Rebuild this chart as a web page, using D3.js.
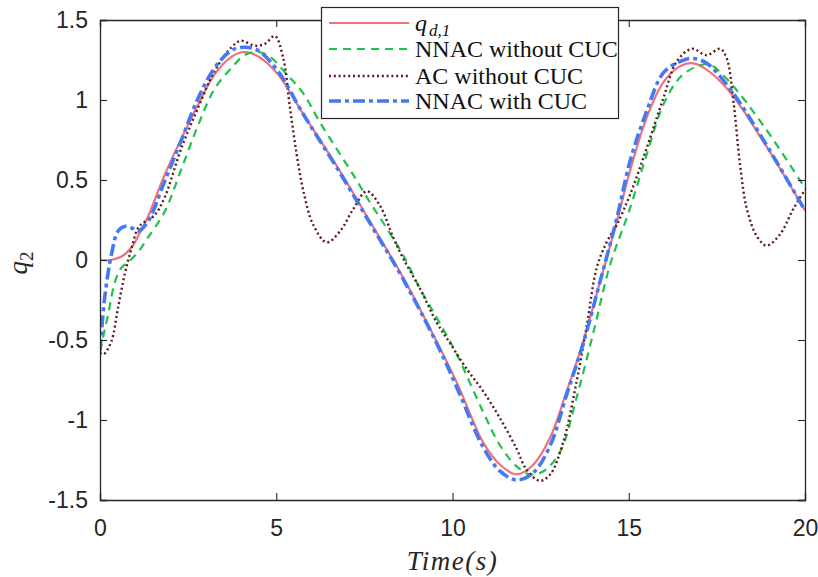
<!DOCTYPE html>
<html>
<head>
<meta charset="utf-8">
<script src="https://cdn.jsdelivr.net/npm/d3@7"></script>
<style>
  body { margin: 0; background: #fff; }
  svg { display: block; }
</style>
</head>
<body>
<div id="chart"></div>
<script>
// reference trajectory q_d,1
var refTime = [0, 0.3, 0.6, 0.9, 1.13, 1.36, 1.83, 2.31, 2.78, 3.25, 3.73, 4.1, 4.5, 5.05, 5.77, 6.71, 7.66, 8.6, 9.55, 10.17, 10.87, 11.35, 11.82, 12.29, 12.77, 13.24, 13.71, 14.18, 14.66, 15.04, 15.51, 15.98, 16.45, 16.79, 17.21, 17.87, 18.82, 20];
var refValues = [0, 0, 0.02, 0.08, 0.17, 0.27, 0.53, 0.76, 0.97, 1.16, 1.27, 1.30, 1.27, 1.16, 0.91, 0.59, 0.24, -0.11, -0.51, -0.79, -1.14, -1.28, -1.34, -1.28, -1.11, -0.82, -0.51, -0.14, 0.24, 0.56, 0.89, 1.11, 1.21, 1.23, 1.19, 1.05, 0.74, 0.31];

// NNAC without CUC
var nnacTime = [0, 0.23, 0.42, 0.6, 0.82, 1.08, 1.36, 1.83, 2.31, 2.78, 3.25, 3.73, 4.1, 4.5, 4.82, 5.3, 5.77, 6.24, 7.19, 7.66, 8.13, 8.6, 9.08, 9.55, 10.1, 10.87, 11.35, 11.82, 12.2, 12.58, 13.05, 13.52, 14.0, 14.47, 15.0, 15.51, 15.98, 16.45, 16.93, 17.3, 17.87, 18.82, 20];
var nnacValues = [-0.57, -0.34, -0.14, -0.05, -0.01, 0.05, 0.14, 0.30, 0.57, 0.84, 1.07, 1.20, 1.28, 1.30, 1.27, 1.16, 1.04, 0.86, 0.53, 0.36, 0.20, 0.03, -0.18, -0.36, -0.58, -0.95, -1.16, -1.29, -1.34, -1.32, -1.20, -0.86, -0.45, -0.03, 0.30, 0.66, 0.97, 1.14, 1.21, 1.22, 1.11, 0.84, 0.45];

// AC without CUC
var acTime = [0, 0.1, 0.32, 0.51, 0.7, 0.89, 1.08, 1.27, 1.55, 1.83, 2.31, 2.78, 3.25, 3.73, 4.0, 4.39, 4.67, 4.96, 5.2, 5.39, 5.58, 5.77, 6.05, 6.43, 6.81, 7.19, 7.57, 7.94, 8.32, 8.6, 9.08, 9.55, 9.93, 10.4, 10.87, 11.35, 11.82, 12.1, 12.48, 12.77, 13.14, 13.52, 13.81, 14.09, 14.37, 14.66, 15.04, 15.51, 15.98, 16.36, 16.79, 17.21, 17.59, 17.78, 17.97, 18.16, 18.35, 18.63, 18.91, 19.29, 19.67, 20];
var acValues = [-0.58, -0.59, -0.51, -0.30, -0.09, 0.07, 0.20, 0.24, 0.28, 0.39, 0.70, 0.95, 1.18, 1.33, 1.37, 1.34, 1.35, 1.40, 1.26, 0.95, 0.66, 0.43, 0.22, 0.11, 0.18, 0.32, 0.43, 0.34, 0.14, 0.01, -0.18, -0.39, -0.52, -0.68, -0.82, -0.99, -1.18, -1.31, -1.38, -1.34, -1.14, -0.76, -0.41, -0.05, 0.11, 0.22, 0.41, 0.70, 1.01, 1.24, 1.32, 1.28, 1.32, 1.26, 0.99, 0.59, 0.32, 0.15, 0.09, 0.16, 0.32, 0.44];

// NNAC with CUC
var cucTime = [0, 0.13, 0.32, 0.51, 0.7, 0.9, 1.08, 1.36, 1.83, 2.31, 2.78, 3.25, 3.73, 4.1, 4.48, 5.05, 5.77, 6.71, 7.66, 8.6, 9.55, 10.17, 10.87, 11.35, 11.82, 12.29, 12.77, 13.24, 13.71, 14.18, 14.66, 15.04, 15.51, 15.98, 16.45, 16.79, 17.21, 17.87, 18.82, 20];
var cucValues = [-0.57, -0.24, 0.03, 0.18, 0.21, 0.20, 0.18, 0.24, 0.49, 0.75, 1.01, 1.20, 1.31, 1.33, 1.31, 1.18, 0.91, 0.58, 0.23, -0.12, -0.52, -0.82, -1.17, -1.32, -1.375, -1.33, -1.16, -0.84, -0.52, -0.14, 0.26, 0.62, 0.93, 1.17, 1.24, 1.26, 1.23, 1.07, 0.75, 0.31];

var xTicks = [0, 5, 10, 15, 20];
var yTicks = [-1.5, -1, -0.5, 0, 0.5, 1, 1.5];
var yTickLabels = ['-1.5', '-1', '-0.5', '0', '0.5', '1', '1.5'];

var legendNames = ['NNAC without CUC', 'AC without CUC', 'NNAC with CUC'];

(function () {
  var width = 818, height = 577;
  var left = 100, right = 805, top = 20, bottom = 500;
  var axisColor = '#262626';
  var tickFont = '"Liberation Sans", Arial, sans-serif';
  var serifFont = '"Liberation Serif", "Times New Roman", serif';

  var svg = d3.select('#chart').append('svg')
    .attr('width', width)
    .attr('height', height);

  var x = d3.scaleLinear().domain([0, 20]).range([left, right]);
  var y = d3.scaleLinear().domain([-1.5, 1.5]).range([bottom, top]);

  svg.append('clipPath').attr('id', 'plot-clip')
    .append('rect')
    .attr('x', left).attr('y', top)
    .attr('width', right - left).attr('height', bottom - top);

  function zip(ts, vs) {
    return ts.map(function (t, i) { return [t, vs[i]]; });
  }

  var series = [
    { data: zip(refTime, refValues), color: '#f0717b', width: 2.2, dash: null },
    { data: zip(nnacTime, nnacValues), color: '#1fc24a', width: 2.2, dash: '8,6' },
    { data: zip(acTime, acValues), color: '#5c1a1c', width: 2.4, dash: '2,2.8' },
    { data: zip(cucTime, cucValues), color: '#4479f2', width: 3.6, dash: '12,4,4,4' }
  ];

  var line = d3.line()
    .x(function (d) { return x(d[0]); })
    .y(function (d) { return y(d[1]); })
    .curve(d3.curveCatmullRom.alpha(0.5));

  var lineGroup = svg.append('g').attr('clip-path', 'url(#plot-clip)');
  series.forEach(function (s) {
    lineGroup.append('path')
      .datum(s.data)
      .attr('d', line)
      .attr('fill', 'none')
      .attr('stroke', s.color)
      .attr('stroke-width', s.width)
      .attr('stroke-dasharray', s.dash);
  });

  // axes: bottom/left with labels, top/right mirrored ticks only
  var tickLen = 7;
  var xAxis = svg.append('g').attr('transform', 'translate(0,' + bottom + ')')
    .call(d3.axisBottom(x).tickValues(xTicks).tickSize(-tickLen).tickPadding(20).tickFormat(d3.format('d')));
  var yAxis = svg.append('g').attr('transform', 'translate(' + left + ',0)')
    .call(d3.axisLeft(y).tickValues(yTicks).tickSize(-tickLen).tickPadding(12)
      .tickFormat(function (d, i) { return yTickLabels[i]; }));
  var xTop = svg.append('g').attr('transform', 'translate(0,' + top + ')')
    .call(d3.axisTop(x).tickValues(xTicks).tickSize(-tickLen).tickFormat(''));
  var yRight = svg.append('g').attr('transform', 'translate(' + right + ',0)')
    .call(d3.axisRight(y).tickValues(yTicks).tickSize(-tickLen).tickFormat(''));

  [xAxis, yAxis, xTop, yRight].forEach(function (g) {
    g.select('.domain').attr('stroke', axisColor).attr('stroke-width', 1.3);
    g.selectAll('.tick line').attr('stroke', axisColor).attr('stroke-width', 1.1);
    g.selectAll('.tick text')
      .attr('fill', axisColor)
      .style('font-family', tickFont)
      .style('font-size', '23px');
  });

  // axis labels
  svg.append('text')
    .attr('x', (left + right) / 2)
    .attr('y', 570)
    .attr('text-anchor', 'middle')
    .style('font-family', serifFont)
    .style('font-style', 'italic')
    .style('font-size', '27px')
    .style('letter-spacing', '1.5px')
    .attr('fill', axisColor)
    .text('Time(s)');

  var yLabel = svg.append('text')
    .attr('transform', 'translate(27,263) rotate(-90)')
    .attr('text-anchor', 'middle')
    .style('font-family', serifFont)
    .style('font-size', '27px')
    .attr('fill', axisColor);
  yLabel.append('tspan').style('font-style', 'italic').text('q');
  yLabel.append('tspan').attr('dy', 6).style('font-size', '19px').text('2');

  // legend
  var legend = svg.append('g');
  legend.append('rect')
    .attr('x', 321.5).attr('y', 7.5)
    .attr('width', 297).attr('height', 111)
    .attr('fill', '#fff')
    .attr('stroke', axisColor)
    .attr('stroke-width', 1.2);

  var rowY = [23, 49, 76, 101];
  series.forEach(function (s, i) {
    legend.append('line')
      .attr('x1', 329).attr('x2', 409)
      .attr('y1', rowY[i]).attr('y2', rowY[i])
      .attr('stroke', s.color)
      .attr('stroke-width', s.width)
      .attr('stroke-dasharray', s.dash);
    var label = legend.append('text')
      .attr('x', 415)
      .attr('y', rowY[i] + 8)
      .style('font-family', serifFont)
      .style('font-size', '24px')
      .attr('fill', '#111');
    if (i === 0) {
      // q with subscript d,1 kept as one string to avoid split glyph boxes
      label.append('tspan').style('font-style', 'italic').text('q');
      label.append('tspan').attr('dx', 2).attr('dy', 5).style('font-size', '17px')
        .style('font-style', 'italic').text('d,1');
    } else {
      label.text(legendNames[i - 1]);
    }
  });
})();
</script>
</body>
</html>
